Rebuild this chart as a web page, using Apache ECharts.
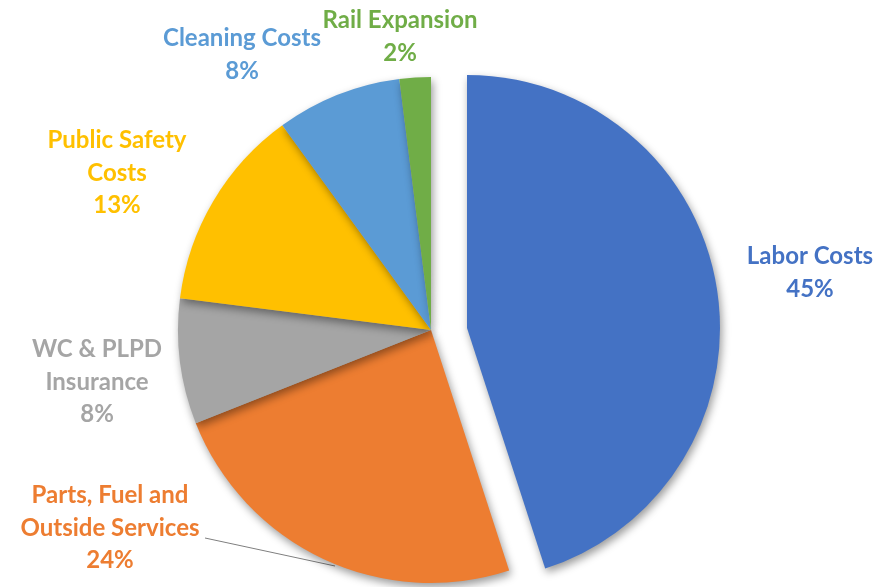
<!DOCTYPE html>
<html><head><meta charset="utf-8">
<script src="https://cdn.jsdelivr.net/npm/echarts@6/dist/echarts.min.js"></script>
<style>html,body{margin:0;padding:0;background:#fff}#c{width:877px;height:587px}</style>
</head><body><div id="c"></div>
<script>
const categories = ['Labor Costs', 'Parts, Fuel and\nOutside Services', 'WC & PLPD\nInsurance', 'Public Safety\nCosts', 'Cleaning Costs', 'Rail Expansion'];
const values = [45, 24, 8, 13, 8, 2];
const colors = ['#4472C4', '#ED7D31', '#A5A5A5', '#FFC000', '#5B9BD5', '#70AD47'];
const explodedIndex = 0;
// label anchor (center of text block) in pixels
const labelPos = [[810, 273], [110, 528], [97, 382], [117, 173], [242, 55], [400, 37]];

const chart = echarts.init(document.getElementById('c'));

function makeData(showExploded) {
  return categories.map((n, i) => {
    const visible = showExploded ? i === explodedIndex : i !== explodedIndex;
    return {
      name: n, value: values[i],
      itemStyle: visible ? { color: colors[i] } : { color: 'rgba(0,0,0,0)', shadowBlur: 0, shadowColor: 'rgba(0,0,0,0)' },
      label: { show: visible, color: colors[i] },
      labelLine: { show: visible && i === 1 }
    };
  });
}

const common = {
  type: 'pie',
  radius: 253,
  startAngle: 90,
  clockwise: true,
  silent: true,
  avoidLabelOverlap: false,
  itemStyle: { shadowBlur: 8, shadowColor: 'rgba(0,0,0,0.4)', shadowOffsetX: 2, shadowOffsetY: 4 },
  label: {
    position: 'outside',
    formatter: '{b}\n{d}%',
    fontFamily: 'Lato', fontWeight: 'bold', fontSize: 24, lineHeight: 32.5, align: 'center'
  },
  labelLine: { length: 20, length2: 30, lineStyle: { color: '#7f7f7f', width: 1 } },
  labelLayout: function (p) {
    const pos = labelPos[p.dataIndex];
    const r = { x: pos[0], y: pos[1], align: 'center', verticalAlign: 'middle', hideOverlap: false };
    if (p.dataIndex === 1) {
      r.labelLinePoints = [[pos[0] + 95, pos[1] + 10], [pos[0] + 225, pos[1] + 38], [pos[0] + 225, pos[1] + 38]];
    }
    return r;
  },
  emphasis: { disabled: true }
};

chart.setOption({
  animation: false,
  series: [
    Object.assign({}, common, { center: [431, 330], data: makeData(false) }),
    Object.assign({}, common, { center: [467, 328], data: makeData(true) })
  ]
});
</script></body></html>
